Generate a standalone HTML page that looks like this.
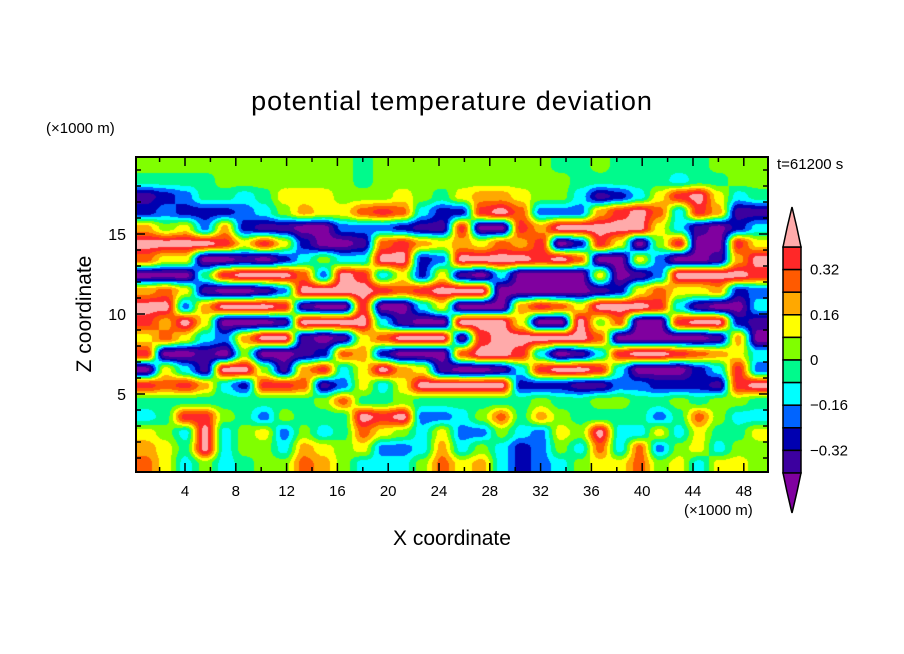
<!DOCTYPE html>
<html><head><meta charset="utf-8">
<style>
body{margin:0;background:#fff;}
#wrap{position:relative;width:904px;height:654px;overflow:hidden;background:#fff;font-family:"Liberation Sans",sans-serif;}
.t{position:absolute;white-space:nowrap;color:#000;}
</style></head>
<body>
<div id="wrap">
<div class="t" style="left:0;width:904px;text-align:center;top:86px;font-size:27px;letter-spacing:1px;">potential temperature deviation</div>
<div class="t" style="left:46px;top:120px;font-size:15px;">(×1000 m)</div>
<div class="t" style="left:777px;top:156px;font-size:15px;">t=61200 s</div>
<div class="t" style="left:684px;top:502px;font-size:15px;">(×1000 m)</div>
<div class="t" style="left:0;width:904px;text-align:center;top:527px;font-size:21px;">X coordinate</div>
<div class="t" style="left:-15px;top:302px;width:200px;text-align:center;font-size:21px;transform:rotate(-90deg);">Z coordinate</div>
<canvas id="field" width="632" height="315" style="position:absolute;left:136px;top:157px;"></canvas>
<svg id="ov" width="904" height="654" style="position:absolute;left:0;top:0;"></svg>
</div>
<script>
const levelColors=["#80009f","#3c009f","#0000b0","#0064ff","#00ffff","#00fa8c","#80ff00","#ffff00","#ffa800","#ff5a00","#ff2828","#ffaaaa"];
const colorbarLabels=["0.32","0.16","0","-0.16","-0.32"];
const xTicks=[4,8,12,16,20,24,28,32,36,40,44,48];
const yTicks=[5,10,15];
const fieldRows=[
[6,6,6,6,6,6,6,6,6,6,6,5,6,6,6,6, 6,6,6,6,6,5,5,6,5,5,5,5,5,6,6,6],
[5,5,5,5,6,6,6,6,6,6,6,5,6,6,6,6, 6,6,6,6,6,6,5,5,5,5,5,4,5,5,6,6],
[1,2,3,5,5,4,5,7,7,7,6,6,6,7,6,5, 7,8,8,7,6,6,4,1,2,4,7,10,11,7,4,5],
[2,3,2,2,2,3,4,6,8,7,7,9,10,9,4,2, 2,10,11,9,3,3,3,8,10,11,9,4,10,8,1,1],
[8,6,7,3,8,2,1,1,0,0,3,3,3,2,1,1, 10,0,0,10,8,11,11,11,11,11,7,4,1,0,2,4],
[11,11,11,11,10,7,10,7,2,0,0,1,9,10,8,7, 8,7,9,8,10,0,2,10,7,0,6,10,0,0,10,7],
[9,7,7,0,0,1,0,2,4,6,4,4,11,11,2,3, 11,11,11,11,10,11,9,0,0,7,3,0,0,1,8,11],
[0,0,0,5,10,11,11,11,9,3,11,10,4,7,2,7, 1,0,4,0,0,0,0,7,0,1,3,11,11,11,11,10],
[8,9,7,1,0,0,1,3,11,11,11,11,10,9,10,11, 11,11,0,0,0,0,0,1,2,7,9,7,7,8,2,3],
[11,11,3,8,11,11,11,10,1,0,0,10,0,0,4,7, 0,0,0,8,10,9,7,11,11,11,10,4,1,0,0,4],
[10,8,11,7,0,0,0,1,11,11,11,11,4,1,0,0, 11,11,11,7,0,0,11,6,9,0,0,10,11,11,2,1],
[7,9,7,4,3,8,11,11,1,0,1,7,9,11,11,11, 1,10,11,11,11,11,11,9,0,0,0,0,0,1,8,0],
[10,0,0,1,0,6,0,0,1,2,9,8,2,0,0,0, 9,11,11,10,4,0,1,4,10,11,11,10,9,8,7,4],
[0,7,4,1,11,11,6,1,8,10,4,7,11,8,7,1, 0,0,1,4,10,11,11,10,4,0,0,0,2,4,10,3],
[10,9,10,8,4,2,10,10,9,1,3,7,4,7,11,11, 11,11,11,2,2,2,1,1,3,3,2,2,2,1,10,11],
[5,5,5,5,5,5,5,5,5,6,9,5,5,6,5,5, 5,5,5,5,6,5,5,6,6,5,5,6,5,6,6,5],
[4,5,10,10,6,5,3,6,5,5,5,11,10,11,3,3, 4,6,9,5,8,6,5,5,5,5,3,5,9,6,4,4],
[7,6,4,11,4,6,7,3,6,4,5,9,7,6,4,7, 3,3,6,4,3,7,6,11,4,4,7,4,7,5,5,7],
[8,7,5,11,4,6,6,4,8,7,6,7,3,3,4,8, 4,6,4,2,3,6,4,9,4,9,3,6,7,4,6,6],
[9,7,4,6,4,5,6,6,9,8,6,4,4,4,6,9, 7,8,4,2,3,4,6,7,7,9,6,7,4,7,7,6]
];
const PL=136,PT=157,PR=768,PB=472;
function xs(v){return 134.2+12.7*v;}
function ys(v){return 474-16*v;}
(function(){
  const cv=document.getElementById('field'),ctx=cv.getContext('2d');
  const W=cv.width,H=cv.height,img=ctx.createImageData(W,H);
  const nr=fieldRows.length,nc=fieldRows[0].length;
  const rgb=levelColors.map(c=>[parseInt(c.substr(1,2),16),parseInt(c.substr(3,2),16),parseInt(c.substr(5,2),16)]);
  const sm=t=>t*t*(3-2*t);
  for(let y=0;y<H;y++){
    let fy=(y+0.5)/H*nr-0.5;fy=Math.max(0,Math.min(nr-1,fy));
    const r0=Math.floor(fy),r1=Math.min(nr-1,r0+1),ty=sm(fy-r0);
    for(let x=0;x<W;x++){
      let fx=(x+0.5)/W*nc-0.5;fx=Math.max(0,Math.min(nc-1,fx));
      const c0=Math.floor(fx),c1=Math.min(nc-1,c0+1),tx=sm(fx-c0);
      const v=(fieldRows[r0][c0]*(1-tx)+fieldRows[r0][c1]*tx)*(1-ty)+(fieldRows[r1][c0]*(1-tx)+fieldRows[r1][c1]*tx)*ty;
      const k=Math.max(0,Math.min(11,Math.round(v)));
      const i=(y*W+x)*4;img.data[i]=rgb[k][0];img.data[i+1]=rgb[k][1];img.data[i+2]=rgb[k][2];img.data[i+3]=255;
    }
  }
  ctx.putImageData(img,0,0);
})();
const NS="http://www.w3.org/2000/svg",ov=document.getElementById('ov');
function mk(tag,attrs){const e=document.createElementNS(NS,tag);for(const k in attrs)e.setAttribute(k,attrs[k]);ov.appendChild(e);return e;}
let fr=mk('rect',{x:PL,y:PT,width:PR-PL,height:PB-PT,fill:'none',stroke:'#000','stroke-width':2});


for(let v=2;v<=49;v+=2){
  const major=v%4===0,len=major?9:5,X=xs(v);
  let t1=mk('line',{x1:X,x2:X,y1:PB,y2:PB-len,stroke:'#000','stroke-width':1.5});
  
  
  let t2=mk('line',{x1:X,x2:X,y1:PT,y2:PT+len,stroke:'#000','stroke-width':1.5});
  
  
}
xTicks.forEach(v=>{
  let t=mk('text',{x:xs(v),y:496,'text-anchor':'middle','font-size':15,'font-family':'Liberation Sans, sans-serif'});
  t.textContent=v;
  
  
});
for(let v=1;v<=19;v++){
  const major=v%5===0,len=major?9:5,Y=ys(v);
  let t1=mk('line',{x1:PL,x2:PL+len,y1:Y,y2:Y,stroke:'#000','stroke-width':1.5});
  
  
  let t2=mk('line',{x1:PR,x2:PR-len,y1:Y,y2:Y,stroke:'#000','stroke-width':1.5});
  
  
}
yTicks.forEach(v=>{
  let t=mk('text',{x:126,y:ys(v)+6,'text-anchor':'end','font-size':16,'font-family':'Liberation Sans, sans-serif'});
  t.textContent=v;
  
  
});
const CBL=783,CBR=801,CBT=247,CBB=473,bh=(CBB-CBT)/10;
for(let i=0;i<10;i++){
  let r=mk('rect',{x:CBL,y:CBT+i*bh,width:CBR-CBL,height:bh,fill:levelColors[10-i],stroke:'#000','stroke-width':1.5});
  
  
}
let tu=mk('path',{d:`M${CBL},${CBT} Q${CBL+4},${CBT-20} ${(CBL+CBR)/2},207 Q${CBR-4},${CBT-20} ${CBR},${CBT} Z`,fill:levelColors[11],stroke:'#000','stroke-width':1.5});


let td=mk('path',{d:`M${CBL},${CBB} Q${CBL+4},${CBB+20} ${(CBL+CBR)/2},513 Q${CBR-4},${CBB+20} ${CBR},${CBB} Z`,fill:levelColors[0],stroke:'#000','stroke-width':1.5});


colorbarLabels.forEach((s,i)=>{
  let t=mk('text',{x:810,y:CBT+bh*(1+2*i)+5,'font-size':15,'font-family':'Liberation Sans, sans-serif'});
  t.textContent=s.replace('-','\u2212');
  
  
});
</script>
</body></html>
